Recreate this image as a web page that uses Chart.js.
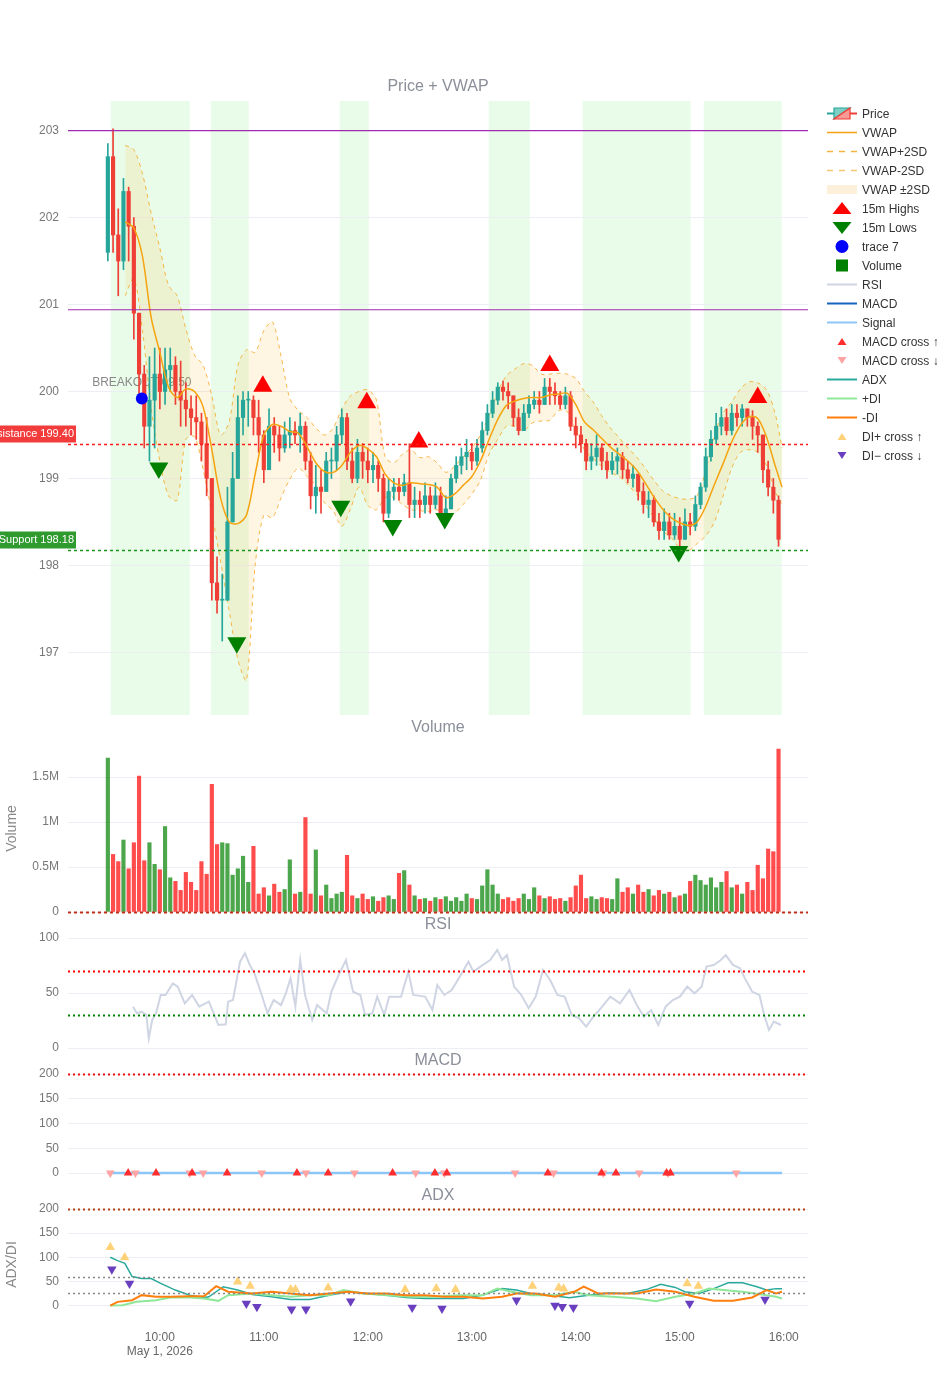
<!DOCTYPE html>
<html>
<head>
<meta charset="utf-8">
<script src="https://cdn.jsdelivr.net/npm/chart.js@4.4.1/dist/chart.umd.min.js"></script>
<style>
  body { margin: 0; background: #fff; font-family: Arial, "Liberation Sans", sans-serif; }
  #page { position: relative; width: 937px; height: 1400px; overflow: hidden; }
  #page canvas { position: absolute; left: 0; }
  .ptitle { position: absolute; left: 0; width: 876px; text-align: center; font-size: 16px; line-height: 18px; color: #8a8f99; }
  #legend { position: absolute; left: 827px; top: 104px; font-size: 12px; color: #333; }
  .lg { height: 19px; display: flex; align-items: center; white-space: nowrap; }
  .lg svg { width: 30px; height: 19px; margin-right: 5px; flex: none; }
</style>
</head>
<body>
<div id="page">
  <canvas id="price" width="937" height="636" style="top:90px"></canvas>
  <canvas id="volume" width="937" height="187" style="top:735px"></canvas>
  <canvas id="rsi" width="937" height="130" style="top:928px"></canvas>
  <canvas id="macd" width="937" height="131" style="top:1064px"></canvas>
  <canvas id="adx" width="937" height="171" style="top:1199px"></canvas>
  <div class="ptitle" style="top:77px">Price + VWAP</div>
  <div class="ptitle" style="top:718px">Volume</div>
  <div class="ptitle" style="top:915px">RSI</div>
  <div class="ptitle" style="top:1051px">MACD</div>
  <div class="ptitle" style="top:1186px">ADX</div>
  <div id="legend"></div>
</div>
<script>
// time axis in minutes after midnight
const xMin = 547, xMax = 974;
const xTicks = [600, 660, 720, 780, 840, 900, 960];
const dateLabel = 'May 1, 2026';

// 3-minute candles starting 09:30
const barStart = 570, barStep = 3;
const firstOpen = 201.6;
const closes = [
  202.7,201.8,201.5,202.3,201.9,200.9,200.2,199.6,199.9,200.2,
  200.0,200.25,200.3,200.0,199.9,199.8,199.7,199.65,199.4,199.0,
  197.8,197.6,197.6,198.5,199.0,199.7,199.9,199.9,199.7,199.5,
  199.1,199.6,199.5,199.35,199.5,199.55,199.5,199.6,199.2,198.8,
  198.9,198.85,199.2,199.2,199.5,199.7,199.2,199.0,199.3,199.2,
  199.1,199.15,199.0,198.6,198.85,198.9,198.85,198.95,198.7,198.75,
  198.7,198.8,198.7,198.8,198.6,198.65,199.0,199.15,199.25,199.3,
  199.2,199.35,199.55,199.75,199.9,200.05,200.0,199.95,199.7,199.55,
  199.75,199.85,199.9,199.85,200.05,200.0,199.95,199.85,199.95,199.6,
  199.5,199.4,199.2,199.25,199.35,199.2,199.1,199.2,199.25,199.1,
  199.0,199.05,198.85,198.7,198.75,198.5,198.4,198.5,198.35,198.45,
  198.3,198.5,198.45,198.7,198.9,199.25,199.45,199.6,199.7,199.55,
  199.75,199.7,199.8,199.7,199.6,199.5,199.1,198.9,198.75,198.3
];
const highs = [
  202.85,203.02,202.1,202.45,202.35,202.0,200.9,200.3,200.4,200.5,
  200.5,200.5,200.5,200.4,200.35,200.1,199.95,199.95,199.75,199.7,
  199.0,198.1,197.9,198.9,199.3,199.95,200.0,200.0,199.95,199.9,
  199.55,199.8,199.7,199.6,199.65,199.7,199.65,199.75,199.65,199.3,
  199.15,199.1,199.3,199.35,199.6,199.8,199.75,199.35,199.45,199.4,
  199.35,199.3,199.2,199.05,199.0,199.0,199.0,199.05,199.4,198.9,
  198.85,198.95,198.9,198.95,198.9,198.8,199.05,199.25,199.35,199.45,
  199.4,199.45,199.65,199.85,200.0,200.1,200.12,200.1,199.95,199.8,
  199.85,199.95,200.0,200.0,200.15,200.15,200.1,200.0,200.05,200.0,
  199.7,199.6,199.45,199.4,199.5,199.4,199.3,199.3,199.35,199.3,
  199.2,199.15,199.05,198.95,198.85,198.8,198.6,198.65,198.6,198.6,
  198.55,198.65,198.6,198.8,198.95,199.35,199.55,199.75,199.82,199.8,
  199.85,199.85,199.85,199.8,199.78,199.65,199.5,199.2,199.0,198.8
];
const lows = [
  201.5,201.6,201.1,201.4,201.5,200.6,199.95,199.35,199.2,199.35,
  199.8,199.85,200.0,199.85,199.6,199.6,199.5,199.45,199.2,198.8,
  197.6,197.45,197.13,197.8,198.5,199.0,199.5,199.6,199.5,199.3,
  198.95,199.1,199.3,199.2,199.3,199.35,199.4,199.3,199.1,198.65,
  198.6,198.6,198.9,199.0,199.1,199.4,199.1,198.95,198.95,199.0,
  198.95,198.95,198.85,198.5,198.55,198.75,198.75,198.8,198.55,198.55,
  198.55,198.6,198.6,198.65,198.55,198.55,198.65,198.95,199.05,199.1,
  199.1,199.15,199.3,199.5,199.7,199.85,199.9,199.8,199.6,199.5,
  199.55,199.7,199.8,199.75,199.85,199.85,199.85,199.8,199.8,199.55,
  199.35,199.3,199.1,199.1,199.15,199.1,199.0,199.05,199.05,199.0,
  198.95,198.9,198.75,198.6,198.55,198.45,198.3,198.3,198.3,198.3,
  198.22,198.35,198.35,198.4,198.65,198.85,199.2,199.4,199.5,199.5,
  199.5,199.6,199.6,199.6,199.45,199.3,198.95,198.8,198.6,198.22
];
// volume per bar, millions
const volumes = [
  1.71,0.64,0.56,0.80,0.48,0.77,1.51,0.57,0.77,0.53,
  0.47,0.95,0.38,0.34,0.24,0.44,0.33,0.24,0.56,0.42,
  1.42,0.75,0.77,0.76,0.41,0.48,0.62,0.33,0.73,0.20,
  0.27,0.18,0.31,0.22,0.25,0.58,0.20,0.22,1.05,0.20,
  0.69,0.18,0.30,0.15,0.20,0.22,0.63,0.18,0.15,0.20,
  0.14,0.17,0.12,0.16,0.18,0.14,0.43,0.46,0.30,0.18,
  0.14,0.15,0.12,0.16,0.14,0.17,0.12,0.16,0.12,0.20,
  0.15,0.14,0.29,0.47,0.30,0.20,0.14,0.16,0.12,0.15,
  0.20,0.14,0.27,0.18,0.15,0.17,0.14,0.15,0.12,0.16,
  0.29,0.41,0.15,0.17,0.14,0.16,0.15,0.14,0.37,0.22,
  0.27,0.20,0.30,0.22,0.25,0.18,0.24,0.20,0.22,0.16,
  0.18,0.20,0.34,0.41,0.35,0.30,0.38,0.27,0.33,0.45,
  0.27,0.30,0.20,0.33,0.24,0.52,0.37,0.70,0.67,1.81
];

// VWAP and bands
const bandTimes = [580,585,590,595,600,605,610,615,620,625,630,635,640,645,650,655,660,665,670,675,
  680,685,690,695,700,705,710,715,720,725,730,735,740,745,750,755,760,765,770,775,
  780,785,790,795,800,805,810,815,820,825,830,835,840,845,850,855,860,865,870,875,
  880,885,890,895,900,905,910,915,920,925,930,935,940,945,950,955,959];
const vwap = [201.95,201.88,201.55,200.85,200.45,200.05,199.93,200.03,200.00,199.82,
  199.33,198.78,198.50,198.48,198.58,199.05,199.50,199.62,199.60,199.54,
  199.52,199.36,199.18,199.08,199.07,199.15,199.30,199.38,199.34,199.25,
  199.05,198.95,198.92,198.95,198.94,198.93,198.90,198.78,198.82,198.92,
  199.02,199.20,199.45,199.68,199.84,199.89,199.92,199.93,199.93,199.96,
  199.97,199.98,199.85,199.65,199.56,199.46,199.36,199.28,199.20,199.10,
  198.95,198.79,198.65,198.55,198.49,198.46,198.50,198.68,198.93,199.17,
  199.42,199.61,199.71,199.69,199.48,199.15,198.90];
const vwapUpper = [202.83,202.78,202.50,202.05,201.65,201.22,201.10,200.72,200.42,200.30,
  199.95,199.50,199.65,200.30,200.48,200.45,200.70,200.80,200.40,199.92,
  199.78,199.70,199.58,199.50,199.58,199.80,199.95,200.00,200.02,199.90,
  199.25,199.18,199.28,199.33,199.24,199.25,199.18,199.07,199.14,199.25,
  199.35,199.50,199.73,200.00,200.18,200.26,200.32,200.30,200.20,200.20,
  200.21,200.20,200.15,200.00,199.88,199.72,199.58,199.47,199.35,199.25,
  199.12,198.98,198.86,198.80,198.77,198.76,198.80,199.10,199.50,199.75,
  199.88,200.03,200.11,200.10,200.02,199.75,199.35];
const vwapLower = [201.10,201.30,200.70,199.80,199.20,198.80,198.75,199.45,199.48,199.10,
  198.60,198.05,197.48,196.92,196.68,198.00,198.58,198.55,198.78,198.99,
  199.12,199.02,198.92,198.72,198.63,198.45,198.65,198.90,198.69,198.64,
  198.78,198.78,198.70,198.64,198.63,198.62,198.64,198.58,198.60,198.70,
  198.82,198.98,199.28,199.45,199.60,199.60,199.55,199.64,199.66,199.67,
  199.78,199.77,199.55,199.33,199.23,199.14,199.07,199.02,198.93,198.82,
  198.70,198.55,198.40,198.32,198.20,198.17,198.25,198.34,198.50,198.80,
  199.12,199.30,199.33,199.30,199.15,198.85,198.70];

// session shading, levels, markers
const greenZones = [[571.7, 617.3], [629.4, 651.3], [703.8, 720.6], [789.8, 813.5], [844.0, 906.3], [913.8, 958.8]];
const purpleLevels = [203.0, 200.94];
const resistance = 199.40, support = 198.18;
const highTimes = [659.4, 719.4, 749.4, 825.0, 945.0];
const highPrices = [200.06, 199.87, 199.42, 200.30, 199.93];
const lowTimes = [599.4, 644.4, 704.4, 734.4, 764.4, 899.4];
const lowPrices = [199.12, 197.11, 198.68, 198.46, 198.54, 198.16];
const breakoutTime = 589.6, breakoutPrice = 199.92, breakoutText = 'BREAKOUT 09:50';

// RSI
const rsiTimes = [584.5,586.7,589.5,592.2,593.6,595.6,597.8,600.5,603.3,607.5,610.3,614.4,618.6,622.7,628.3,633.8,638,639.4,642.2,646.3,
  649.1,651.9,654.6,658.8,662.1,665.7,669.9,672.7,675.4,678.2,681,683.8,687.9,690.7,696.2,699,703.2,707.4,711.5,715.7,
  718.4,722.6,725.4,729.5,732.3,739.2,743.4,746.2,753.1,757.3,760.1,764.2,768.4,772.5,778.1,780.9,785,790.6,794.7,797.5,
  800.3,804.4,808.6,812.8,816.9,821.1,825.2,829.4,833.6,837.7,841.9,846,850.2,854.4,859.9,865.5,871,875.2,879.3,883.5,
  887.6,891.8,896,900.1,904.3,908.5,912.6,915.4,919.6,923.7,926.5,930.7,934.8,937.6,941.8,946,948.7,951.5,954.3,958.4];
const rsiValues = [37.6,31.5,33,30,8.8,25.5,31.5,48.2,48.2,58.8,55.8,40.6,48.2,37.6,42.1,20.9,21.5,42.1,43.6,78.5,
  86.1,75.5,67.9,48.2,31.5,43.6,39,49.7,63.3,37.6,80,48.2,25.5,39,31.5,51.2,66.4,80,51.2,48.2,
  30,31.5,46.7,30,46.7,46.7,69.4,48.2,46.7,34.5,57.3,48.2,52.7,63.3,78.5,69.4,74,80,89.1,80,
  84.5,55.8,48.2,36.1,46.7,70.9,61.8,48.2,46.7,30,27,19.4,28.5,36.1,46.7,40.6,52.7,39,28.5,34.5,
  20.9,37.6,43.6,46.7,55.8,49.7,55.8,74,75.5,80,84.5,75.5,72.4,63.3,51.2,48.2,30,16.4,24,20.9];

// MACD
const macdTimes = [570, 650, 730, 810, 890, 959];
const macdValues = [0, 0, 0, 0, 0, 0];
const signalValues = [0, 0, 0, 0, 0, 0];
const macdUpTimes = [581.7,597.8,618.6,638.8,679.1,697.1,734.3,758.7,765.6,823.9,854.9,863.2,892.4,894.6];
const macdUpValues = [0,0,0,0,0,0,0,0,0,0,0,0,0,0];
const macdDownTimes = [571.4,585.9,617.2,625,658.8,684.3,712.3,747.6,764.2,805,827.2,855.8,876.6,893.2,932.6];
const macdDownValues = [0,0,0,0,0,0,0,0,0,0,0,0,0,0,0];

// ADX / DI
const adxTimes = [571.4,575.6,579.8,584,589.5,595,600.5,608.9,617.2,625.5,628.3,636.6,644.9,653.3,664.4,675.4,686.5,697.6,708.7,719.8,
  730.9,742,753.1,764.2,775.3,786.4,797.5,805.8,814.1,825.2,836.3,847.4,858.5,869.6,880.7,889,897.4,902.9,911.2,919.6,
  927.9,936.2,944.5,950.1,955.6,959];
const adxValues = [100,93,87.5,60,56,56,46,32,21.5,16.7,18,39,32,23,18,12.5,12.5,21.5,28.5,25,
  21.5,16.7,14.6,14.6,14.6,21.5,35,32,25,21.5,16,21.5,26,25,33,44,37.5,28.5,25,35,
  47,47,39,32,35,35];
const plusDiTimes = [571.4,578.4,586.7,597.8,606.1,617.2,625.5,633.8,639.4,653.3,664.4,675.4,686.5,697.6,705.9,717,730.9,744.8,758.7,772.5,
  786.4,794.7,803.1,814.1,828,839.1,847.4,861.3,875.2,886.3,897.4,908.5,916.8,925.1,936.2,947.3,955.6,959];
const plusDiValues = [0,0.7,7.6,11,16.7,16.7,14.6,9.7,21.5,25,21.5,18,21.5,21.5,32,25,21.5,18,18,21.5,
  21.5,35,28.5,21.5,21.5,28.5,21.5,18,14.6,9,18,25,35,32,28.5,23,18,14.6];
const minusDiTimes = [571.4,575.6,584,589.5,597.8,606.1,617.2,625.5,632.5,639.4,653.3,664.4,675.4,686.5,697.6,708.7,719.8,730.9,742,753.1,
  764.2,775.3,786.4,797.5,805.8,816.9,828,839.1,844.6,852.9,864,875.2,886.3,897.4,908.5,919.6,930.7,941.8,950.1,955.6,959];
const minusDiValues = [0,7.6,11,21.5,18,18,19.4,19.4,40,28.5,25,28.5,25,21.5,25,28.5,25,25,21.5,21.5,
  18,18,14.6,18,25,25,18,28.5,39,25,25,25,33,28.5,18,9.7,9.7,16.7,32,25,28.5];
const diUpTimes = [571.4,579.7,644.9,652.1,675.5,678.2,697.1,741.5,759.5,770.6,815,830.2,833,904.3,910.7];
const diUpValues = [120.8,99.3,49.3,40.3,33.3,33.3,36.8,33.3,35.4,33.3,40.3,36.8,34.7,45.8,40.3];
const diDownTimes = [572.3,582.5,649.9,656,676,684.3,710.1,745.6,762.8,805.8,828,832.2,838.6,905.7,949.2];
const diDownValues = [75,45.8,4.2,-2.8,-7.6,-7.6,9,-4.2,-6.25,11,0,-2.8,-4.2,4.2,12.5];

// axis ticks
const priceTicks = [197, 198, 199, 200, 201, 202, 203];
const volTicks = [0, 0.5, 1, 1.5];
const rsiTicks = [0, 50, 100];
const macdTicks = [0, 50, 100, 150, 200];
const adxTicks = [0, 50, 100, 150, 200];

// colours
const upColor = '#26a69a', downColor = '#ef3e36';
const gridColor = '#eceef3', tickColor = '#777';

Chart.defaults.font.family = 'Arial, "Liberation Sans", sans-serif';
Chart.defaults.font.size = 12;
Chart.defaults.color = tickColor;

const barTimes = closes.map((_, i) => barStart + i * barStep);
const opens = [firstOpen].concat(closes.slice(0, -1));
const candleColors = closes.map((c, i) => c >= opens[i] ? upColor : downColor);
const volColors = closes.map((c, i) => c >= opens[i] ? 'rgba(0,128,0,0.7)' : 'rgba(255,0,0,0.7)');
const pts = (xs, ys) => xs.map((x, i) => ({x: x, y: ys[i]}));

Chart.register({
  id: 'hlines',
  afterDatasetsDraw(chart, args, opts) {
    const lines = opts.lines || [];
    const {ctx, chartArea: a, scales: {y}} = chart;
    ctx.save();
    lines.forEach(l => {
      const py = Math.round(y.getPixelForValue(l.value)) + 0.5;
      ctx.strokeStyle = l.color;
      ctx.lineWidth = l.width;
      ctx.setLineDash(l.dash || []);
      ctx.beginPath(); ctx.moveTo(a.left, py); ctx.lineTo(a.right, py); ctx.stroke();
    });
    ctx.restore();
  }
});

function xScale(show) {
  return {
    type: 'linear', min: xMin, max: xMax, offset: false, display: show,
    grid: {display: false}, border: {display: false},
    afterBuildTicks: a => { a.ticks = xTicks.map(v => ({value: v})); },
    afterFit: a => { if (show) a.height = 50; },
    ticks: {
      padding: 2, color: '#666', maxRotation: 0, autoSkip: false,
      callback: (v, i) => {
        const s = String(Math.floor(v / 60)).padStart(2, '0') + ':' + String(v % 60).padStart(2, '0');
        return i === 0 ? [s, dateLabel] : s;
      }
    }
  };
}
function yScale(min, max, ticks, fmt, title) {
  return {
    min: min, max: max,
    afterFit: a => { a.width = 68; a.paddingTop = 0; a.paddingBottom = 0; },
    afterBuildTicks: a => { a.ticks = ticks.map(v => ({value: v})); },
    grid: {color: gridColor, drawTicks: false}, border: {display: false},
    ticks: {padding: 9, color: tickColor, callback: fmt || (v => v)},
    title: title ? {display: true, text: title, color: '#888', font: {size: 14}, padding: {top: 4, bottom: 0}} : {display: false}
  };
}
function baseOptions(xs, ys, extra) {
  return Object.assign({
    responsive: false, animation: false, devicePixelRatio: 1, events: [],
    layout: {padding: {left: 0, right: 129, top: 10, bottom: 10}},
    scales: {x: xs, y: ys},
    plugins: {legend: {display: false}, tooltip: {enabled: false}}
  }, extra || {});
}
const markers = (xs, ys, color, r, rot, order) => ({
  type: 'line', data: pts(xs, ys), showLine: false, pointStyle: 'triangle', pointRadius: r,
  pointRotation: rot, pointBackgroundColor: color, pointBorderWidth: 0, order: order
});
const line = (xs, ys, color, w, order) => ({
  type: 'line', data: pts(xs, ys), borderColor: color, borderWidth: w, pointRadius: 0, fill: false, order: order
});

// ---------- price ----------
const priceDecor = {
  id: 'priceDecor',
  beforeDraw(chart) {
    const {ctx, chartArea: a, scales: {x}} = chart;
    ctx.save();
    ctx.fillStyle = 'rgba(144,238,144,0.2)';
    greenZones.forEach(z => {
      const x0 = x.getPixelForValue(z[0]), x1 = x.getPixelForValue(z[1]);
      ctx.fillRect(x0, a.top, x1 - x0, a.bottom - a.top);
    });
    ctx.restore();
  },
  beforeDatasetsDraw(chart) {
    const {ctx, scales: {x, y}} = chart;
    ctx.save();
    ctx.font = '12px Arial, "Liberation Sans", sans-serif';
    ctx.fillStyle = '#888';
    ctx.textAlign = 'center'; ctx.textBaseline = 'middle';
    ctx.fillText(breakoutText, x.getPixelForValue(breakoutTime), y.getPixelForValue(breakoutPrice) - 16);
    ctx.restore();
  },
  afterDatasetsDraw(chart) {
    const {ctx, chartArea: a, scales: {y}} = chart;
    ctx.save();
    ctx.strokeStyle = '#a22ab0'; ctx.lineWidth = 1.2;
    purpleLevels.forEach(v => {
      const py = y.getPixelForValue(v);
      ctx.beginPath(); ctx.moveTo(a.left, py); ctx.lineTo(a.right, py); ctx.stroke();
    });
    const levels = [
      {v: resistance, color: '#ff1a1a', box: '#f23b3b', text: 'Resistance ' + resistance.toFixed(2)},
      {v: support, color: '#1a951a', box: '#2f9b2f', text: 'Support ' + support.toFixed(2)}
    ];
    ctx.font = '11px Arial, "Liberation Sans", sans-serif';
    levels.forEach(l => {
      const py = Math.round(y.getPixelForValue(l.v)) + 0.5;
      ctx.strokeStyle = l.color; ctx.lineWidth = 1.5; ctx.setLineDash([3, 3]);
      ctx.beginPath(); ctx.moveTo(a.left, py); ctx.lineTo(a.right, py); ctx.stroke();
      ctx.setLineDash([]);
      const w = ctx.measureText(l.text).width;
      ctx.fillStyle = l.box;
      ctx.fillRect(74 - w - 3, py - 19, w + 5, 17);
      ctx.fillStyle = '#fff';
      ctx.textAlign = 'right'; ctx.textBaseline = 'middle';
      ctx.fillText(l.text, 74, py - 10.5);
    });
    ctx.restore();
  }
};

new Chart(document.getElementById('price'), {
  type: 'bar',
  data: {datasets: [
    {type: 'line', data: pts(bandTimes, vwapUpper), borderColor: 'rgba(245,166,35,0.8)', borderWidth: 1, borderDash: [4, 4],
      pointRadius: 0, tension: 0.3, fill: '+1', backgroundColor: 'rgba(255,175,40,0.13)', order: 10},
    {type: 'line', data: pts(bandTimes, vwapLower), borderColor: 'rgba(245,166,35,0.8)', borderWidth: 1, borderDash: [4, 4],
      pointRadius: 0, tension: 0.3, fill: false, order: 11},
    {type: 'bar', data: barTimes.map((t, i) => ({x: t, y: [Math.min(lows[i], opens[i], closes[i]), Math.max(highs[i], opens[i], closes[i])]})),
      backgroundColor: candleColors, barThickness: 1, grouped: false, order: 4},
    {type: 'bar', data: barTimes.map((t, i) => ({x: t, y: [opens[i], closes[i]]})),
      backgroundColor: candleColors, barThickness: 3.5, minBarLength: 1, grouped: false, order: 3},
    Object.assign(line(bandTimes, vwap, '#f5a30f', 1.5, 2), {tension: 0.3}),
    markers(highTimes, highPrices, '#ff0000', 11, 0, 0),
    markers(lowTimes, lowPrices, '#008000', 11, 180, 0),
    {type: 'line', data: [{x: breakoutTime, y: breakoutPrice}], showLine: false, pointStyle: 'circle', pointRadius: 6,
      pointBackgroundColor: '#0000ff', pointBorderWidth: 0, order: 0}
  ]},
  options: baseOptions(xScale(false), yScale(196.28, 203.34, priceTicks)),
  plugins: [priceDecor]
});

// ---------- volume ----------
new Chart(document.getElementById('volume'), {
  type: 'bar',
  data: {datasets: [
    {data: pts(barTimes, volumes), backgroundColor: volColors, barThickness: 3.5, grouped: false}
  ]},
  options: baseOptions(xScale(false), yScale(0, 1.856, volTicks, v => v === 0 ? '0' : v + 'M', 'Volume'),
    {plugins: {legend: {display: false}, tooltip: {enabled: false},
      hlines: {lines: [{value: 0, color: '#c0301a', width: 2, dash: [3, 3]}]}}})
});

// ---------- RSI ----------
new Chart(document.getElementById('rsi'), {
  type: 'line',
  data: {datasets: [line(rsiTimes, rsiValues, '#cfd5e3', 2, 0)]},
  options: baseOptions(xScale(false), yScale(0, 100, rsiTicks),
    {plugins: {legend: {display: false}, tooltip: {enabled: false},
      hlines: {lines: [{value: 70, color: '#ff0000', width: 2, dash: [2, 3]}, {value: 30, color: '#008000', width: 2, dash: [2, 3]}]}}})
});

// ---------- MACD ----------
new Chart(document.getElementById('macd'), {
  type: 'line',
  data: {datasets: [
    line(macdTimes, macdValues, '#1565c0', 2, 3),
    line(macdTimes, signalValues, '#8cc6f7', 2.5, 2),
    markers(macdUpTimes, macdUpValues, '#ff2e2e', 5, 0, 0),
    markers(macdDownTimes, macdDownValues, '#ffa3a3', 5, 180, 1)
  ]},
  options: baseOptions(xScale(false), yScale(-24, 200, macdTicks),
    {plugins: {legend: {display: false}, tooltip: {enabled: false},
      hlines: {lines: [{value: 200, color: '#e8100c', width: 2, dash: [2, 3]}]}}})
});

// ---------- ADX ----------
new Chart(document.getElementById('adx'), {
  type: 'line',
  data: {datasets: [
    line(adxTimes, adxValues, '#2aaa9c', 1.5, 4),
    line(plusDiTimes, plusDiValues, '#8fe89a', 2, 3),
    line(minusDiTimes, minusDiValues, '#ff7f0e', 2, 2),
    markers(diUpTimes, diUpValues, '#ffd27a', 5.5, 0, 0),
    markers(diDownTimes, diDownValues, '#6a3fbf', 5.5, 180, 0)
  ]},
  options: Object.assign(baseOptions(xScale(true), yScale(-30, 200, adxTicks, null, 'ADX/DI'),
    {plugins: {legend: {display: false}, tooltip: {enabled: false},
      hlines: {lines: [
        {value: 200, color: '#b5400f', width: 2, dash: [2, 3]},
        {value: 60, color: '#888', width: 1.5, dash: [2, 3]},
        {value: 25, color: '#888', width: 1.5, dash: [2, 3]}
      ]}}}), {layout: {padding: {left: 0, right: 129, top: 10, bottom: 0}}})
});

// ---------- legend ----------
const hl = (c, w, dash) => `<line x1="0" y1="9.5" x2="30" y2="9.5" stroke="${c}" stroke-width="${w}"${dash ? ` stroke-dasharray="${dash}"` : ''}/>`;
const poly = (p, c) => `<polygon points="${p}" fill="${c}"/>`;
const legendItems = [
  ['Price', `<line x1="0" y1="9.5" x2="7" y2="9.5" stroke="${upColor}" stroke-width="2"/><line x1="23" y1="9.5" x2="30" y2="9.5" stroke="${downColor}" stroke-width="2"/>` +
    `<polygon points="7,4 23,4 7,15" fill="#7dcfc4" stroke="${upColor}" stroke-width="1.2"/><polygon points="23,4 23,15 7,15" fill="#f79a96" stroke="${downColor}" stroke-width="1.2"/>`],
  ['VWAP', hl('#f5a30f', 1.5)],
  ['VWAP+2SD', hl('#f5b342', 1.3, '6,6')],
  ['VWAP-2SD', hl('#f7c874', 1.3, '6,6')],
  ['VWAP \u00b12SD', '<rect x="0" y="5" width="30" height="9" fill="#fdf0da"/>'],
  ['15m Highs', poly('15,3 24.5,15 5.5,15', '#ff0000')],
  ['15m Lows', poly('5.5,4 24.5,4 15,16', '#008000')],
  ['trace 7', '<circle cx="15" cy="9.5" r="6.5" fill="#0000ff"/>'],
  ['Volume', '<rect x="9" y="3.5" width="12" height="12" fill="#008000"/>'],
  ['RSI', hl('#cfd5e3', 2)],
  ['MACD', hl('#1565c0', 2)],
  ['Signal', hl('#8cc6f7', 2)],
  ['MACD cross \u2191', poly('15,6 19.5,13 10.5,13', '#ff2e2e')],
  ['MACD cross \u2193', poly('10.5,6 19.5,6 15,13', '#ffa3a3')],
  ['ADX', hl('#2aaa9c', 2)],
  ['+DI', hl('#8fe89a', 2)],
  ['-DI', hl('#ff7f0e', 2)],
  ['DI+ cross \u2191', poly('15,6 19.5,13 10.5,13', '#ffd27a')],
  ['DI\u2212 cross \u2193', poly('10.5,6 19.5,6 15,13', '#6a3fbf')]
];
document.getElementById('legend').innerHTML = legendItems.map(it =>
  `<div class="lg"><svg viewBox="0 0 30 19">${it[1]}</svg><span>${it[0]}</span></div>`).join('');
</script>
</body>
</html>
